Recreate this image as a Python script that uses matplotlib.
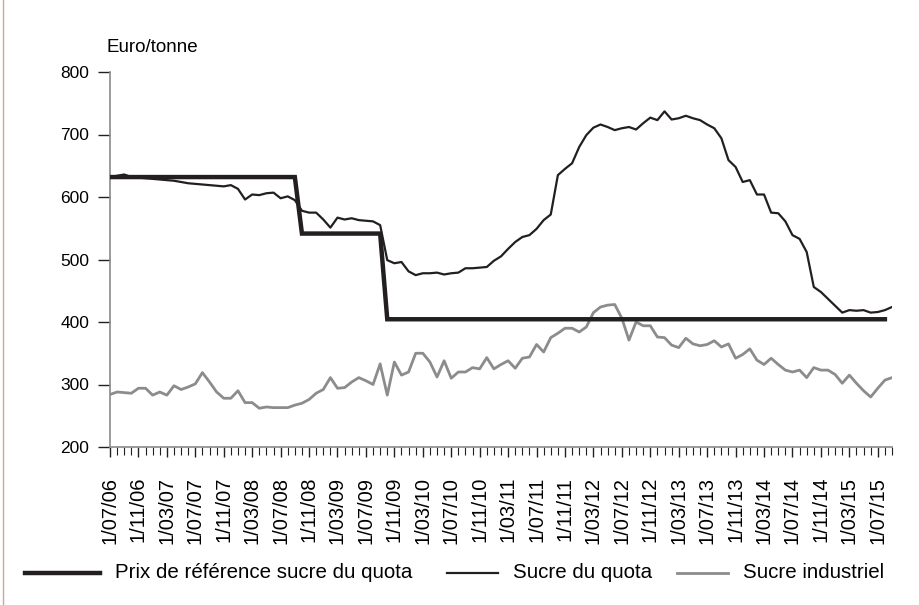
import matplotlib
matplotlib.use("Agg")
import matplotlib.pyplot as plt
from matplotlib.lines import Line2D
from matplotlib.ticker import FixedLocator, MultipleLocator

plt.rcParams['font.family'] = ['Liberation Sans', 'DejaVu Sans']

# Monthly index: 0 = July 2006 ... 110 = September 2015
months = list(range(111))

sucre_quota = [632, 634, 636, 632, 631, 630, 629, 628, 627, 626,
               624, 622, 621, 620, 619, 618, 617, 619, 613, 596,
               604, 603, 606, 607, 598, 601, 595, 578, 575, 575,
               564, 551, 567, 564, 566, 563, 562, 561, 555, 499,
               494, 496, 481, 475, 478, 478, 479, 476, 478, 479,
               486, 486, 487, 488, 498, 505, 517, 528, 536, 539,
               549, 563, 572, 635, 645, 654, 680, 699, 711, 716,
               712, 707, 710, 712, 708, 718, 727, 723, 737, 724,
               726, 730, 726, 723, 716, 710, 694, 659, 648, 624,
               627, 604, 604, 575, 574, 561, 539, 533, 512, 456,
               448, 437, 426, 415, 419, 418, 419, 415, 416, 419,
               424]

sucre_industriel = [284, 288, 287, 286, 294, 294, 283, 288, 283, 298,
                    292, 296, 301, 319, 304, 288, 278, 278, 290, 271,
                    271, 262, 264, 263, 263, 263, 267, 270, 276, 286,
                    292, 311, 294, 295, 304, 311, 306, 300, 333, 283,
                    336, 315, 320, 350, 350, 336, 312, 338, 310, 320,
                    320, 327, 325, 343, 325, 332, 338, 326, 342, 344,
                    364, 352, 375, 382, 390, 390, 384, 392, 415, 424,
                    427, 428, 406, 371, 400, 394, 394, 376, 375, 363,
                    359, 374, 365, 362, 364, 370, 360, 365, 342, 348,
                    357, 339, 332, 342, 332, 323, 320, 323, 311, 327,
                    323, 323, 316, 302, 315, 302, 290, 280, 294, 307,
                    311]

# Reference price periods: (first month index, last month index, value)
ref_periods = [(0, 26, 631.9), (27, 38, 541.5), (39, 109, 404.4)]

tick_labels = ['1/07/06', '1/11/06', '1/03/07', '1/07/07', '1/11/07', '1/03/08',
               '1/07/08', '1/11/08', '1/03/09', '1/07/09', '1/11/09', '1/03/10',
               '1/07/10', '1/11/10', '1/03/11', '1/07/11', '1/11/11', '1/03/12',
               '1/07/12', '1/11/12', '1/03/13', '1/07/13', '1/11/13', '1/03/14',
               '1/07/14', '1/11/14', '1/03/15', '1/07/15']

series_names = ['Prix de référence sucre du quota', 'Sucre du quota', 'Sucre industriel']

ref_x, ref_y = [], []
for a, b, v in ref_periods:
    for m in range(a, b + 1):
        ref_x.append(m)
        ref_y.append(v)

BLACK = '#231f20'
GRAY = '#8c8c8e'

fig = plt.figure(figsize=(9.19, 6.05), dpi=100)
ax = fig.add_axes([110 / 919, 1 - 447 / 605, (892 - 110) / 919, (447 - 72) / 605])

ax.plot(ref_x, ref_y, color=BLACK, lw=3.2, solid_joinstyle='miter', zorder=3)
ax.plot(months, sucre_quota, color=BLACK, lw=1.6, zorder=4)
ax.plot(months, sucre_industriel, color=GRAY, lw=2.0, zorder=2)

ax.set_xlim(0, 110)
ax.set_ylim(200, 800)
ax.set_yticks(range(200, 801, 100))
ax.tick_params(axis='y', labelsize=12.5, length=9, width=1, direction='out',
               color=BLACK, pad=6)

major_pos = list(range(0, 4 * len(tick_labels), 4))
ax.xaxis.set_major_locator(FixedLocator(major_pos))
ax.set_xticklabels(tick_labels, rotation=90, fontsize=14.5, va='top', ha='center')
ax.xaxis.set_minor_locator(MultipleLocator(1))
ax.tick_params(axis='x', which='major', length=7.5, width=1, color=BLACK, pad=14)
ax.tick_params(axis='x', which='minor', length=5.5, width=0.8, color=BLACK)

for s in ['top', 'right']:
    ax.spines[s].set_visible(False)
for s in ['left', 'bottom']:
    ax.spines[s].set_color('#8a8a8a')
    ax.spines[s].set_linewidth(1.2)

fig.text(107 / 919, 1 - 47 / 605, 'Euro/tonne', fontsize=13.5, ha='left', va='center')

# Legend drawn manually at the bottom
leg_y = 1 - 573 / 605
handles = [((25, 100), BLACK, 3.2), ((447, 498), BLACK, 1.6), ((677, 728), GRAY, 2.0)]
text_x = [115, 513, 743]
for (hx, col, lw), tx, name in zip(handles, text_x, series_names):
    fig.add_artist(Line2D([hx[0] / 919, hx[1] / 919], [leg_y, leg_y],
                          color=col, lw=lw, transform=fig.transFigure))
    fig.text(tx / 919, leg_y, name, fontsize=14.8, ha='left', va='center')

# thin border at the left edge
fig.add_artist(Line2D([2.5 / 919, 2.5 / 919], [0, 1], color='#d9a0a0', lw=1,
                      transform=fig.transFigure))

fig.savefig('out.png', dpi=100)
